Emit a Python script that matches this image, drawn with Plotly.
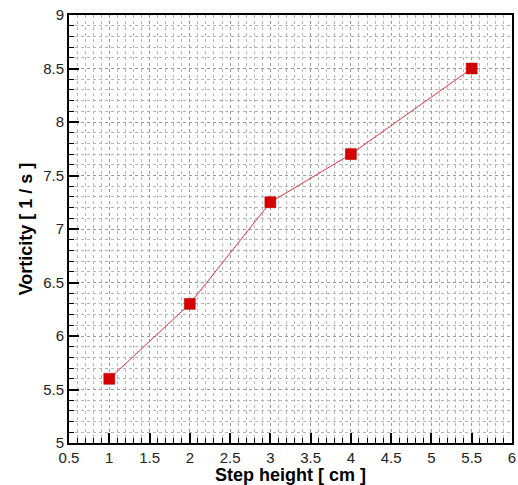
import plotly.graph_objects as go

step_height = [1, 2, 3, 4, 5.5]
vorticity = [5.6, 6.3, 7.25, 7.7, 8.5]

fig = go.Figure()
fig.add_trace(go.Scatter(
    x=step_height, y=vorticity, mode="lines+markers",
    line=dict(color="#e8303a", width=1),
    marker=dict(symbol="square", size=11, color="#d40000",
                line=dict(color="#b00000", width=0.5)),
    showlegend=False,
))

axis_common = dict(
    showline=True, linecolor="black", linewidth=2, mirror=True,
    ticks="inside", ticklen=10, tickwidth=2, tickcolor="black",
    tickfont=dict(family="Liberation Sans, Arial", size=15, color="#222"),
    showgrid=True, gridcolor="#999", griddash="dot", gridwidth=1,
    zeroline=False, automargin=False,
    minor=dict(ticks="inside", ticklen=5, tickwidth=1, tickcolor="black",
               showgrid=True, gridcolor="#b5b5b5", griddash="dot", gridwidth=1),
)

title_font = dict(family="Liberation Sans, Arial", size=18, color="black")

fig.update_xaxes(
    range=[0.5, 6], dtick=0.5, tick0=0.5,
    title=dict(text="<b>Step height [ cm ]</b>", standoff=5, font=title_font),
    **axis_common,
)
fig.update_xaxes(minor_dtick=0.1)
fig.update_yaxes(
    range=[5, 9], dtick=0.5, tick0=5,
    title=dict(text="<b>Vorticity [ 1 / s ]</b>", standoff=6, font=title_font),
    **axis_common,
)
fig.update_yaxes(minor_dtick=0.1)

fig.update_layout(
    width=518, height=485,
    margin=dict(l=69, r=6, t=15, b=42),
    plot_bgcolor="white", paper_bgcolor="white",
)

fig.write_html("out.html")
